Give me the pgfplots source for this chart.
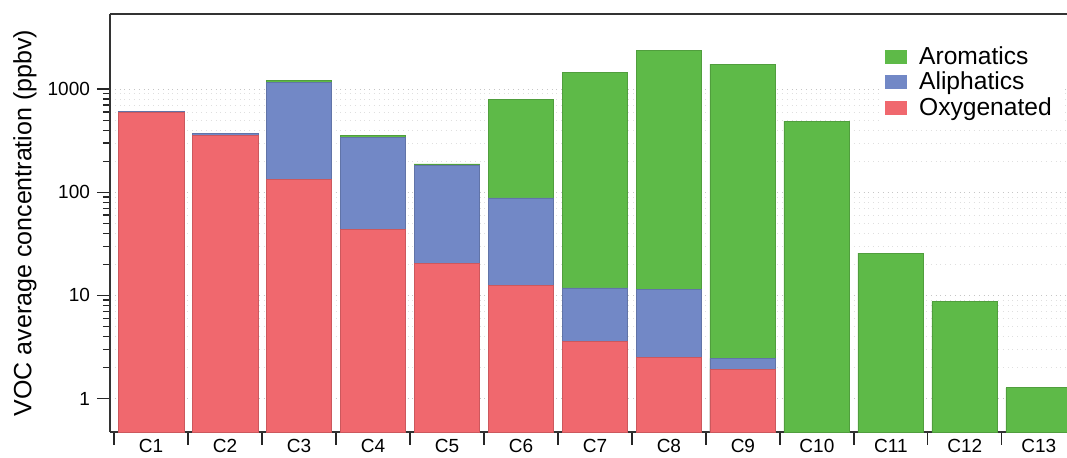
\documentclass[border=0pt]{standalone}
\usepackage{fontspec}
\setmainfont{Liberation Sans}
\usepackage{pgfplots}
\pgfplotsset{compat=1.18}
\definecolor{oxy}{RGB}{240,104,110}
\definecolor{ali}{RGB}{114,136,198}
\definecolor{aro}{RGB}{94,186,72}

\begin{document}
\begin{tikzpicture}
\begin{axis}[
    at={(0,0)}, anchor=south west,
    scale only axis, width=478.5pt, height=209pt,
    ymode=log, log origin=infty,
    xmin=0.446, xmax=13.38, ymin=0.473, ymax=5346,
    axis x line*=box, axis y line*=left,
    axis line style={line width=0.9pt, black!80},
    xtick={0.5,1.5,...,12.5}, xticklabels={},
    extra x ticks={1,2,...,13},
    extra x tick labels={C1,C2,C3,C4,C5,C6,C7,C8,C9,C10,C11,C12,C13},
    extra x tick style={major tick length=0pt},
    ytick={1,10,100,1000},
    log ticks with fixed point,
    /pgf/number format/1000 sep={},
    /pgf/number format/assume math mode=true,
    tick align=outside, xtick pos=left, ytick pos=left,
    major tick length=6.5pt, minor tick length=3.5pt,
    tick style={black!85, line width=0.6pt},
    ymajorgrids, yminorgrids,
    major grid style={gray!45, dotted},
    minor grid style={gray!25, dotted},
    tick label style={font=\fontsize{9.5}{11}\selectfont},
    ylabel={VOC average concentration (ppbv)},
    ylabel style={font=\fontsize{12.5}{14}\selectfont,
        at={(axis description cs:-0.089,0.5)}, anchor=center},
    ybar, bar width=0.89,
    legend style={at={(axis description cs:0.995,0.943)}, anchor=north east,
        draw=none, fill=white, font=\fontsize{12.3}{14}\selectfont,
        row sep=-1.5pt},
    legend cell align=left,
    /tikz/every odd column/.append style={column sep=4pt},
    legend image code/.code={
        \fill[#1, draw=none] (0pt,-3.5pt) rectangle (11pt,3.5pt);},
]

% cumulative tops (ppbv)
\addplot[bar shift=0pt, fill=aro, draw=aro!85!black, line width=0.4pt] coordinates {
    (3,1220) (4,355) (5,188) (6,800) (7,1460) (8,2390) (9,1750)
    (10,490) (11,25.6) (12,8.7) (13,1.27)
};
\addlegendentry{Aromatics}

\addplot[bar shift=0pt, fill=ali, draw=ali!85!black, line width=0.4pt] coordinates {
    (1,611) (2,374) (3,1170) (4,343) (5,180) (6,88) (7,11.8) (8,11.5) (9,2.45)
};
\addlegendentry{Aliphatics}

\addplot[bar shift=0pt, fill=oxy, draw=oxy!85!black, line width=0.4pt] coordinates {
    (1,588) (2,357) (3,133) (4,43.5) (5,20.4) (6,12.4) (7,3.55) (8,2.5) (9,1.92)
};
\addlegendentry{Oxygenated}

\end{axis}
\pgfresetboundingbox
\path (-55pt,-12.5pt) rectangle (478.5pt,216pt);
\end{tikzpicture}
\end{document}
